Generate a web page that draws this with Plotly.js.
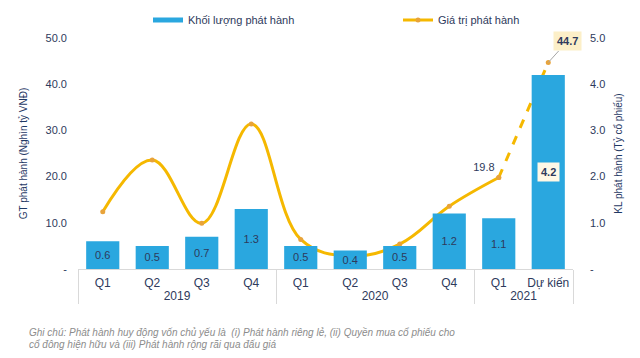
<!DOCTYPE html>
<html>
<head>
<meta charset="utf-8">
<script src="https://cdn.plot.ly/plotly-3.0.1.min.js"></script>
<style>html,body{margin:0;padding:0;background:#fff;}#chart{width:640px;height:358px;}</style>
</head>
<body>
<div id="chart"></div>
<script>
var years = ['2019','2019','2019','2019','2020','2020','2020','2020','2021','2021'];
var quarters = ['Q1','Q2','Q3','Q4','Q1','Q2','Q3','Q4','Q1','Dự kiến'];
var volume = [0.6,0.5,0.7,1.3,0.5,0.4,0.5,1.2,1.1,4.2];
var value = [12.4,23.6,9.9,31.4,6.4,2.8,5.4,13.6,19.8,44.7];
var leftTickVals = [0,10,20,30,40,50];
var leftTickText = ['-','10.0','20.0','30.0','40.0','50.0'];
var rightTickVals = [0,1,2,3,4,5];
var rightTickText = ['-','1.0','2.0','3.0','4.0','5.0'];
var noteLines = [
  'Ghi chú: Phát hành huy động vốn chủ yếu là  (i) Phát hành riêng lẻ, (ii) Quyền mua cổ phiếu cho',
  'cổ đông hiện hữu và (iii) Phát hành rộng rãi qua đấu giá'
];

var navy = '#2E3A5C';
var barColor = '#2AA7DF';
var lineColor = '#F5B800';
var markerColor = '#E8A33A';
var font = 'Liberation Sans, Arial, sans-serif';

var last = volume.length - 1;
var barText = volume.map(function(v,i){ return i === last ? '' : v.toFixed(1); });
var lineText = value.map(function(v,i){ return i === last - 1 ? v.toFixed(1) : ''; });

var solidN = last;
var traces = [
  {
    type: 'bar', name: 'Khối lượng phát hành', showlegend: false,
    x: [years, quarters], y: volume, yaxis: 'y2',
    marker: {color: barColor},
    text: barText, textposition: 'inside', insidetextanchor: 'middle',
    textfont: {color: navy, size: 11, family: font}, cliponaxis: false
  },
  {
    type: 'scatter', mode: 'lines', name: 'Khối lượng phát hành', legend: 'legend',
    x: [[years[0]],[quarters[0]]], y: [null],
    line: {color: barColor, width: 5}, showlegend: true
  },
  {
    type: 'scatter', mode: 'lines+markers+text', name: 'Giá trị phát hành', legend: 'legend2',
    x: [years.slice(0, solidN), quarters.slice(0, solidN)], y: value.slice(0, solidN),
    line: {color: lineColor, width: 3, shape: 'spline', smoothing: 1.1},
    marker: {color: markerColor, size: 5},
    text: lineText.slice(0, solidN), textposition: 'top left',
    textfont: {color: navy, size: 11, family: font}, cliponaxis: false
  },
  {
    type: 'scatter', mode: 'lines+markers', showlegend: false,
    x: [years.slice(solidN - 1), quarters.slice(solidN - 1)], y: value.slice(solidN - 1),
    line: {color: lineColor, width: 3, dash: 'dash'},
    marker: {color: markerColor, size: 5}, cliponaxis: false
  }
];

var legendBase = {
  orientation: 'h', xref: 'container', xanchor: 'left',
  yref: 'container', y: 1 - 20/358, yanchor: 'middle',
  font: {size: 11, color: navy}, bgcolor: 'rgba(0,0,0,0)'
};

var layout = {
  width: 640, height: 358,
  margin: {l: 78, r: 67, t: 38, b: 89, autoexpand: false},
  paper_bgcolor: '#fff', plot_bgcolor: '#fff',
  font: {family: font, size: 11, color: navy},
  bargap: 0.33,
  xaxis: {
    type: 'multicategory', range: [-0.5, volume.length - 0.5],
    showgrid: false, showline: true, linecolor: '#D9D9D9',
    showdividers: true, dividercolor: '#D9D9D9', dividerwidth: 1, automargin: false,
    tickfont: {size: 12, color: navy}, tickangle: 0, ticks: '', zeroline: false, ticklabelstandoff: 3
  },
  yaxis: {
    range: [0, 50], tickvals: leftTickVals, ticktext: leftTickText, automargin: false,
    showgrid: false, zeroline: false, ticks: '', ticklabelstandoff: 10,
    tickfont: {size: 11, color: navy},
    title: {text: 'GT phát hành (Nghìn tỷ VNĐ)', font: {size: 10, color: '#1F3864'}, standoff: 16}
  },
  yaxis2: {
    range: [0, 5], overlaying: 'y', side: 'right', automargin: false,
    tickvals: rightTickVals, ticktext: rightTickText,
    showgrid: false, zeroline: false, ticks: '', ticklabelstandoff: 16,
    tickfont: {size: 11, color: navy},
    title: {text: 'KL phát hành (Tỷ cổ phiếu)', font: {size: 10, color: '#1F3864'}, standoff: 10}
  },
  legend: Object.assign({}, legendBase, {x: 148/640}),
  legend2: Object.assign({}, legendBase, {x: 398/640}),
  annotations: [
    {
      x: [years[last], quarters[last]], y: value[last], xref: 'x', yref: 'y',
      text: '<b>' + value[last].toFixed(1) + '</b>', showarrow: true, arrowhead: 0,
      arrowcolor: '#A6A6A6', arrowwidth: 1, ax: 19, ay: -21,
      bgcolor: '#FCEFC8', borderpad: 3, font: {size: 11, color: navy}
    },
    {
      x: [years[last], quarters[last]], y: volume[last] / 2, xref: 'x', yref: 'y2',
      text: '<b>' + volume[last].toFixed(1) + '</b>', showarrow: false,
      bgcolor: '#FFF8E6', borderpad: 3, font: {size: 11, color: navy}
    },
    {
      xref: 'paper', yref: 'paper', x: -0.103, y: -63/231, xanchor: 'left', yanchor: 'middle',
      align: 'left', showarrow: false, text: '<i>' + noteLines[0] + '</i>',
      font: {size: 10, color: '#8C8C8C'}
    },
    {
      xref: 'paper', yref: 'paper', x: -0.103, y: -75/231, xanchor: 'left', yanchor: 'middle',
      align: 'left', showarrow: false, text: '<i>' + noteLines[1] + '</i>',
      font: {size: 10, color: '#8C8C8C'}
    }
  ]
};

Plotly.newPlot('chart', traces, layout, {displayModeBar: false, staticPlot: true});
</script>
</body>
</html>
